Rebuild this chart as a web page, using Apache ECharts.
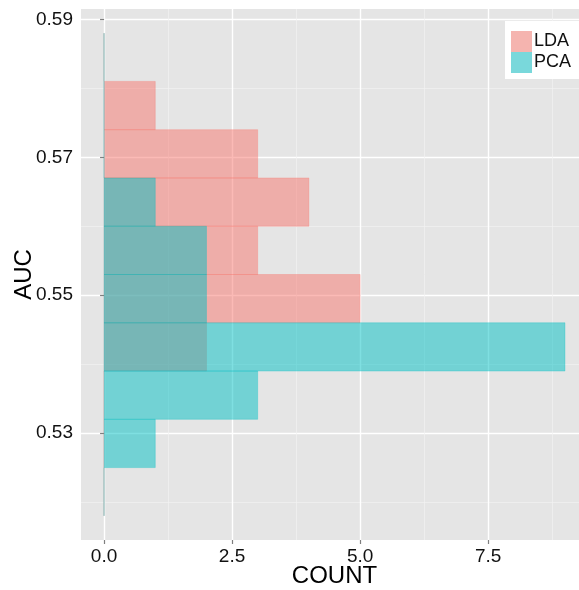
<!DOCTYPE html>
<html><head><meta charset="utf-8">
<script src="https://cdn.jsdelivr.net/npm/echarts@6/dist/echarts.min.js"></script>
<style>html,body{margin:0;padding:0;background:#fff}#c{width:579px;height:590px}</style>
</head><body><div id="c"></div>
<script>
const binEdges = [0.518,0.525,0.532,0.539,0.546,0.553,0.560,0.567,0.574,0.581,0.588];
const ldaCounts = [0,0,0,2,5,3,4,3,1,0];
const pcaCounts = [0,1,3,9,2,2,1,0,0,0];
const seriesNames = ['LDA','PCA'];
const xTicks = [0,2.5,5,7.5];
const xMinor = [1.25,3.75,6.25,8.75];
const yTicks = [0.53,0.55,0.57,0.59];
const yMinor = [0.52,0.54,0.56,0.58];

const FONT = '"Liberation Sans", Arial, sans-serif';
const fills = ['rgba(248,118,109,0.5)','rgba(0,191,196,0.5)'];
const keyColors = ['#F5B4AF','#79D8DB'];

function binData(counts){ return counts.map((c,i)=>[binEdges[i],binEdges[i+1],c]); }

function renderBin(fill){
  return function(params, api){
    const y0=api.value(0), y1=api.value(1), c=api.value(2);
    const p0=api.coord([0,y1]);
    const p1=api.coord([c,y0]);
    if(c===0){
      return {type:'line', shape:{x1:p0[0],y1:p0[1],x2:p0[0],y2:p1[1]}, style:{stroke:fill,lineWidth:1}};
    }
    return {type:'rect', shape:{x:p0[0],y:p0[1],width:p1[0]-p0[0],height:p1[1]-p0[1]}, style:{fill:fill, stroke:fill, lineWidth:0.6}};
  };
}

const XMIN=-0.45, XMAX=9.45, YMIN=0.5145, YMAX=0.5915;
const chart = echarts.init(document.getElementById('c'), null, {renderer:'canvas'});
chart.setOption({
  animation:false,
  backgroundColor:'#fff',
  grid:{left:81, top:9, width:507, height:531, backgroundColor:'#E5E5E5', show:true, borderWidth:0,
        containLabel:false, outerBoundsMode:'none'},
  legend:{
    orient:'vertical', left:505, top:21, padding:[10,8,6,6], itemGap:0, itemWidth:21, itemHeight:21,
    backgroundColor:'#fff', icon:'rect',
    textStyle:{fontFamily:FONT, fontSize:18, color:'#111', padding:[0,0,0,-3]},
    data:[{name:'LDA', itemStyle:{color:keyColors[0]}},{name:'PCA', itemStyle:{color:keyColors[1]}}]
  },
  xAxis:[{
    type:'value', min:XMIN, max:XMAX, gridIndex:0,
    name:'COUNT', nameLocation:'middle', nameGap:24, nameMoveOverlap:false,
    nameTextStyle:{fontFamily:FONT, fontSize:24, color:'#000'},
    axisLine:{show:false},
    axisTick:{show:true, length:4, lineStyle:{color:'#7F7F7F', width:1.2}, customValues:xTicks},
    axisLabel:{fontFamily:FONT, fontSize:19, color:'#111', margin:7, customValues:xTicks, formatter:v=>v.toFixed(1)},
    splitLine:{show:true, lineStyle:{color:'#fff', width:1.4}}
  },{
    type:'value', min:XMIN, max:XMAX, gridIndex:0, position:'bottom',
    axisLine:{show:false}, axisLabel:{show:false},
    axisTick:{show:false, customValues:xMinor},
    splitLine:{show:true, lineStyle:{color:'#F2F2F2', width:0.7}}
  }],
  yAxis:[{
    type:'value', min:YMIN, max:YMAX, gridIndex:0,
    name:'AUC', nameLocation:'middle', nameGap:45, nameRotate:90, nameMoveOverlap:false,
    nameTextStyle:{fontFamily:FONT, fontSize:24, color:'#000'},
    axisLine:{show:false},
    axisTick:{show:true, length:4, lineStyle:{color:'#7F7F7F', width:1.2}, customValues:yTicks},
    axisLabel:{fontFamily:FONT, fontSize:19, color:'#111', margin:8, customValues:yTicks, formatter:v=>v.toFixed(2)},
    splitLine:{show:true, lineStyle:{color:'#fff', width:1.4}}
  },{
    type:'value', min:YMIN, max:YMAX, gridIndex:0, position:'left',
    axisLine:{show:false}, axisLabel:{show:false},
    axisTick:{show:false, customValues:yMinor},
    splitLine:{show:true, lineStyle:{color:'#F2F2F2', width:0.7}}
  }],
  series:[
    {name:seriesNames[0], type:'custom', xAxisIndex:0, yAxisIndex:0, renderItem:renderBin(fills[0]),
     encode:{x:2, y:[0,1]}, data:binData(ldaCounts), itemStyle:{color:keyColors[0]}, silent:true},
    {name:seriesNames[1], type:'custom', xAxisIndex:0, yAxisIndex:0, renderItem:renderBin(fills[1]),
     encode:{x:2, y:[0,1]}, data:binData(pcaCounts), itemStyle:{color:keyColors[1]}, silent:true}
  ]
});
</script></body></html>
